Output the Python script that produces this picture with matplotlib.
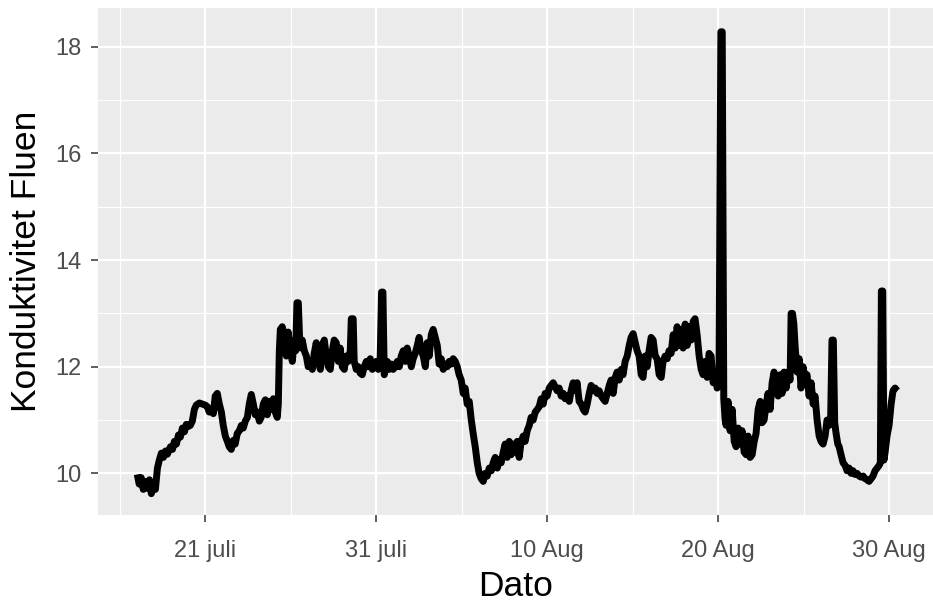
import matplotlib
matplotlib.use('Agg')
import matplotlib.pyplot as plt
import matplotlib.dates as mdates
import pandas as pd

plt.rcParams['font.family'] = ['Liberation Sans', 'DejaVu Sans']

# time: days after 1 July 00:00 ; value: conductivity
dag = [
    16.02, 16.13, 16.25, 16.37, 16.49, 16.61, 16.73, 16.84, 16.96, 17.08,
    17.20, 17.31, 17.43, 17.55, 17.67, 17.78, 17.96, 18.08, 18.19, 18.31,
    18.43, 18.54, 18.66, 18.78, 18.89, 19.01, 19.12, 19.24, 19.36, 19.47,
    19.65, 19.82, 20.00, 20.12, 20.23, 20.35, 20.47, 20.58, 20.70, 20.82,
    20.94, 21.05, 21.17, 21.29, 21.40, 21.52, 21.64, 21.75, 21.87, 21.99,
    22.11, 22.22, 22.34, 22.46, 22.57, 22.69, 22.81, 22.92, 23.04, 23.16,
    23.27, 23.39, 23.51,
    23.63, 23.74, 23.86, 23.98, 24.09, 24.21, 24.27, 24.33, 24.39, 24.50,
    24.62, 24.74, 24.85, 24.97, 25.09, 25.20, 25.29, 25.36, 25.44, 25.52,
    25.60, 25.67, 25.79, 25.91, 26.02, 26.14, 26.26, 26.37, 26.49, 26.61,
    26.73, 26.84, 26.96, 27.08, 27.19, 27.31, 27.43, 27.54, 27.66, 27.78,
    27.89, 28.01, 28.13, 28.25, 28.36, 28.48, 28.54, 28.65, 28.71, 28.83,
    28.95, 29.06, 29.18, 29.30, 29.42, 29.53, 29.65, 29.77, 29.88, 30.00,
    30.12, 30.22, 30.31, 30.39, 30.47, 30.55, 30.64, 30.76, 30.88, 30.99,
    31.11, 31.23, 31.35, 31.46, 31.58,
    31.70, 31.81, 31.93, 32.05, 32.16, 32.28, 32.40, 32.51, 32.63, 32.75,
    32.87, 32.98, 33.10, 33.22, 33.33, 33.45, 33.57, 33.68, 33.80, 33.92,
    34.04, 34.15, 34.27, 34.39, 34.50, 34.62, 34.74, 34.85, 34.97, 35.09,
    35.20, 35.32, 35.44, 35.56, 35.67, 35.79, 35.91, 36.02, 36.14, 36.26,
    36.37, 36.49, 36.61, 36.73, 36.84, 36.96, 37.08, 37.19, 37.31, 37.43,
    37.54, 37.66, 37.78, 37.89, 38.01, 38.13, 38.25, 38.36, 38.48, 38.60,
    38.71, 38.83, 38.95, 39.06, 39.18, 39.30, 39.42,
    39.53, 39.65, 39.77, 39.88, 40.00, 40.12, 40.23, 40.35, 40.47, 40.58,
    40.70, 40.82, 40.94, 41.05, 41.17, 41.29, 41.40, 41.52, 41.64, 41.75,
    41.87, 41.99, 42.11, 42.22, 42.34, 42.46, 42.57, 42.69, 42.81, 42.92,
    43.04, 43.16, 43.27, 43.39, 43.51, 43.63, 43.74, 43.86, 43.98, 44.09,
    44.21, 44.33, 44.44, 44.56, 44.68, 44.80, 44.91, 45.03, 45.15, 45.26,
    45.38, 45.50, 45.61, 45.73, 45.85, 45.96, 46.08, 46.20, 46.32, 46.43,
    46.55, 46.67, 46.78, 46.90, 47.02, 47.13, 47.25,
    47.37, 47.49, 47.60, 47.72, 47.84, 47.95, 48.07, 48.19, 48.30, 48.42,
    48.54, 48.65, 48.77, 48.89, 49.01, 49.12, 49.24, 49.36, 49.47, 49.59,
    49.71, 49.82, 49.94, 50.05, 50.16, 50.24, 50.33, 50.41, 50.47, 50.58,
    50.70, 50.82, 50.94, 51.05, 51.17, 51.29, 51.40, 51.52, 51.64, 51.75,
    51.87, 51.99, 52.11, 52.22, 52.34, 52.46, 52.57, 52.69, 52.81, 52.92,
    53.04, 53.16, 53.27, 53.39, 53.51, 53.63, 53.74, 53.86, 53.98, 54.09,
    54.21, 54.27, 54.35, 54.43, 54.50, 54.62, 54.74, 54.85, 54.97, 55.09,
    55.20, 55.32, 55.44, 55.56, 55.67, 55.79, 55.91, 56.02, 56.14, 56.26,
    56.37, 56.49, 56.58, 56.66, 56.74, 56.82, 56.90, 57.00, 57.08, 57.19,
    57.31, 57.43, 57.54, 57.66, 57.78, 57.89, 58.01, 58.13, 58.25, 58.36,
    58.48, 58.60, 58.71, 58.83, 58.95, 59.06, 59.18, 59.30, 59.42, 59.49,
    59.55, 59.63, 59.70, 59.77, 59.88, 60.00, 60.12, 60.23, 60.35, 60.47,
]

konduktivitet = [
    9.98, 9.80, 9.92, 9.70, 9.85, 9.72, 9.88, 9.62, 9.78, 9.70,
    10.10, 10.25, 10.38, 10.30, 10.42, 10.36, 10.50, 10.45, 10.60, 10.55,
    10.72, 10.68, 10.85, 10.78, 10.92, 10.88, 10.90, 10.98, 11.20, 11.28,
    11.32, 11.30, 11.28, 11.25, 11.15, 11.20, 11.12, 11.45, 11.50, 11.30,
    11.15, 10.90, 10.70, 10.60, 10.50, 10.45, 10.62, 10.55, 10.75, 10.80,
    10.90, 10.85, 10.98, 11.05, 11.30, 11.48, 11.30, 11.10, 11.15, 10.98,
    11.05, 11.30, 11.38,
    11.10, 11.35, 11.20, 11.40, 11.15, 11.05, 11.30, 12.30, 12.70, 12.75,
    12.60, 12.20, 12.65, 12.30, 12.10, 12.50, 12.30, 13.20, 13.20, 12.50,
    12.35, 12.50, 12.30, 12.20, 12.00, 12.10, 11.95, 12.25, 12.45, 12.10,
    11.95, 12.40, 12.50, 12.20, 12.00, 11.95, 12.30, 12.50, 12.45, 12.10,
    12.35, 12.00, 11.95, 12.20, 12.10, 12.30, 12.90, 12.90, 12.10, 11.95,
    12.00, 11.88, 11.85, 12.00, 12.10, 12.00, 12.15, 11.95, 12.05, 12.10,
    11.95, 12.00, 13.40, 13.40, 11.85, 12.00, 12.10, 11.95, 12.05, 11.95,
    12.00, 12.10, 12.00, 12.20, 12.30,
    12.10, 12.35, 12.20, 12.00, 12.15, 12.25, 12.40, 12.55, 12.30, 12.20,
    12.00, 12.45, 12.20, 12.60, 12.70, 12.55, 12.40, 12.05, 12.15, 11.95,
    12.05, 12.00, 12.10, 12.05, 12.15, 12.10, 12.00, 11.85, 11.75, 11.50,
    11.60, 11.30, 11.35, 11.00, 10.75, 10.50, 10.20, 10.00, 9.90, 9.85,
    10.00, 9.95, 10.10, 10.05, 10.20, 10.30, 10.10, 10.25, 10.20, 10.40,
    10.55, 10.30, 10.60, 10.35, 10.55, 10.40, 10.60, 10.30, 10.60, 10.70,
    10.60, 10.80, 10.90, 11.05, 11.00, 11.15, 11.20,
    11.25, 11.40, 11.30, 11.50, 11.45, 11.60, 11.65, 11.70, 11.62, 11.55,
    11.60, 11.45, 11.50, 11.40, 11.45, 11.35, 11.55, 11.70, 11.55, 11.70,
    11.35, 11.30, 11.20, 11.15, 11.30, 11.50, 11.65, 11.55, 11.60, 11.50,
    11.55, 11.45, 11.40, 11.35, 11.50, 11.65, 11.75, 11.50, 11.80, 11.90,
    11.75, 11.95, 11.85, 12.10, 12.20, 12.40, 12.55, 12.62, 12.45, 12.30,
    12.20, 11.85, 11.80, 12.20, 12.00, 12.30, 12.55, 12.50, 12.20, 12.15,
    11.85, 11.80, 12.10, 12.20, 12.15, 12.30, 12.25,
    12.60, 12.35, 12.75, 12.40, 12.70, 12.35, 12.80, 12.40, 12.75, 12.50,
    12.85, 12.90, 12.60, 12.20, 11.95, 11.85, 12.10, 11.80, 12.25, 12.20,
    11.70, 11.90, 11.60, 11.70, 18.28, 18.28, 11.40, 11.00, 10.90, 11.35,
    10.80, 11.20, 10.60, 10.50, 10.85, 10.55, 10.80, 10.40, 10.35, 10.70,
    10.30, 10.35, 10.60, 10.75, 11.20, 11.35, 10.95, 11.00, 11.30, 11.50,
    11.20, 11.70, 11.90, 11.75, 11.45, 11.85, 11.50, 11.90, 11.60, 11.90,
    11.75, 13.00, 13.00, 12.80, 12.40, 11.90, 12.15, 11.60, 12.00, 11.75,
    11.85, 11.45, 11.70, 11.30, 11.45, 11.00, 10.70, 10.60, 10.55, 10.70,
    11.00, 10.90, 11.00, 12.50, 12.50, 10.95, 10.75, 10.55, 10.50, 10.35,
    10.20, 10.15, 10.05, 10.10, 10.00, 10.05, 9.98, 10.00, 9.95, 9.93,
    9.95, 9.90, 9.88, 9.85, 9.90, 9.95, 10.05, 10.10, 10.15, 10.20,
    13.42, 13.42, 10.25, 10.40, 10.70, 10.90, 11.30, 11.55, 11.60, 11.55,
]

tick_dager = [20, 30, 40, 50, 60]
tick_etiketter = ['21 juli', '31 juli', '10 Aug', '20 Aug', '30 Aug']
minor_dager = [15, 25, 35, 45, 55]
y_ticks = [10, 12, 14, 16, 18]
y_minor = [11, 13, 15, 17]

base = pd.Timestamp('2019-07-01')
tid = base + pd.to_timedelta(dag, unit='D')

W, H = 933, 603
fig = plt.figure(figsize=(W / 100, H / 100), dpi=100)
left_px, right_px, top_px, bottom_px = 98.3, 933, 8.3, 515
ax = fig.add_axes([left_px / W, 1 - bottom_px / H,
                   (right_px - left_px) / W, (bottom_px - top_px) / H])
ax.set_facecolor('#EBEBEB')
ax.set_axisbelow(True)

ax.plot(tid, konduktivitet, color='black', lw=5.0,
        solid_joinstyle='round', solid_capstyle='butt', zorder=3)

ax.set_xlim(base + pd.Timedelta(days=13.74), base + pd.Timedelta(days=62.57))
ax.set_ylim(9.22, 18.72)

ax.set_xticks([base + pd.Timedelta(days=d) for d in tick_dager])
ax.set_xticklabels(tick_etiketter)
ax.set_xticks([base + pd.Timedelta(days=d) for d in minor_dager], minor=True)
ax.set_yticks(y_ticks)
ax.set_yticklabels([str(v) for v in y_ticks])
ax.set_yticks(y_minor, minor=True)

ax.grid(which='major', color='white', lw=1.6)
ax.grid(which='minor', color='white', lw=0.8)
for s in ax.spines.values():
    s.set_visible(False)

ax.tick_params(which='major', length=5, width=1.1, color='#333333',
               labelcolor='#4D4D4D', labelsize=17, pad=7)
ax.tick_params(axis='x', which='major', pad=13)
ax.tick_params(which='minor', length=0)

ax.set_xlabel('Dato', fontsize=25.5, color='black', labelpad=6)
ax.set_ylabel('Konduktivitet Fluen', fontsize=25.5, color='black', labelpad=9)

fig.savefig('out.png', dpi=100)
